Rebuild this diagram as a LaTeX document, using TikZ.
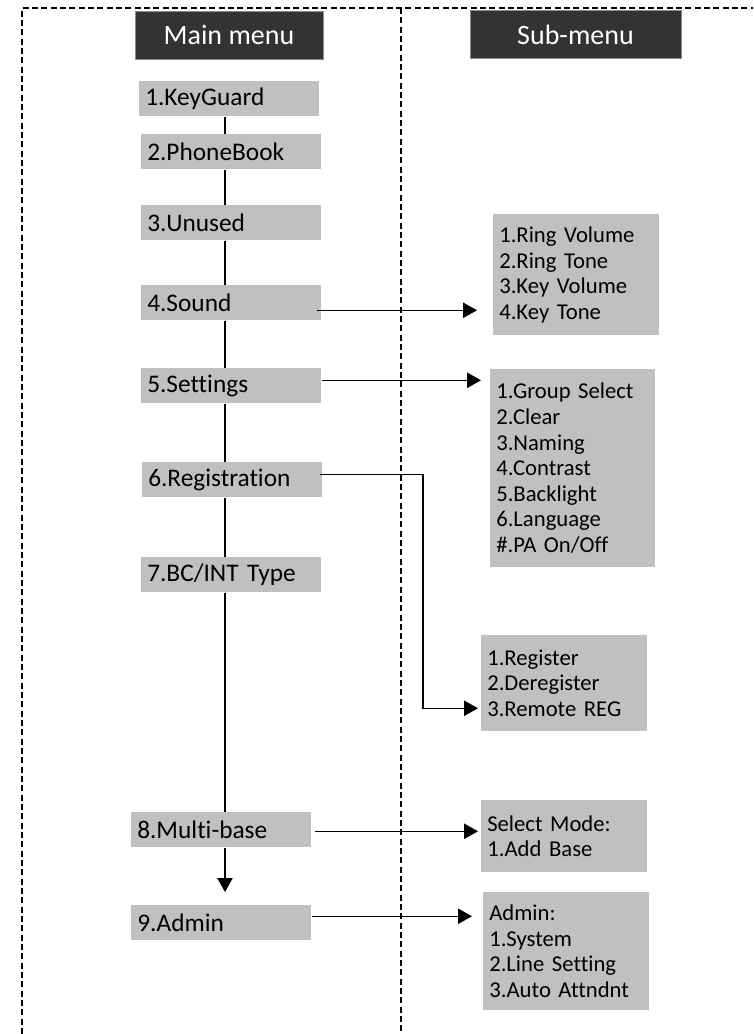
\documentclass[tikz,border=0pt]{standalone}
\usepackage{fontspec}
\setmainfont{Carlito}[Ligatures=NoCommon]
\usetikzlibrary{arrows.meta,positioning,calc}
\definecolor{menuGray}{HTML}{C0C0C0}
\definecolor{menuDark}{HTML}{333333}
\tikzset{
    >=Latex,
    header/.style={fill=menuDark, draw=black!45, line width=0.6pt, text=white, font=\fontsize{21}{25}\selectfont, minimum width=141pt, minimum height=36pt, inner sep=0pt},
    mainitem/.style={fill=menuGray, anchor=north west, minimum width=135pt, minimum height=26.25pt, text width=126pt, inner xsep=4.5pt, inner ysep=0pt, align=left, font=\fontsize{19}{22}\selectfont},
    subitem/.style={fill=menuGray, anchor=north west, text width=115.5pt, inner xsep=4.5pt, inner ysep=0pt, align=left, font=\fontsize{17}{19.2}\selectfont},
    link/.style={line width=1.1pt, draw=black},
    linkarrow/.style={link, -{Triangle[length=10.5pt,width=11.5pt]}},
    frameline/.style={line width=1.8pt, dash pattern=on 4.5pt off 2.5pt}
}
\begin{document}
\begin{tikzpicture}[x=0.75pt,y=-0.75pt]
\useasboundingbox (0,0) rectangle (753,1034);
% dashed frame
\draw[frameline] (22,1034) -- (22,8) -- (753,8);
\draw[frameline] (401,8) -- (401,1034);
% column headers
\node[header] (mainhd) at (229,35) {Main menu};
\node[header, minimum width=158.25pt] (subhd) at (575.5,34.5) {Sub-menu};
% main menu
\node[mainitem] (kg) at (139,81) {1.KeyGuard};
\node[mainitem] (pb) at (141,134) {2.PhoneBook};
\node[mainitem] (un) at (141,205) {3.Unused};
\node[mainitem] (snd) at (141,285) {4.Sound};
\node[mainitem] (set) at (141,368) {5.Settings};
\node[mainitem] (reg) at (142,462) {6.Registration};
\node[mainitem] (bc) at (141,557) {7.BC/INT Type};
\node[mainitem] (mb) at (131,812) {8.Multi-base};
\node[mainitem] (adm) at (131,905) {9.Admin};
% sub-menus
\node[subitem, minimum height=90.75pt] (rv) at (493,214) {1.Ring Volume\\2.Ring Tone\\3.Key Volume\\4.Key Tone};
\node[subitem, text width=114.75pt, minimum height=148.5pt] (gs) at (490,369) {1.Group Select\\2.Clear\\3.Naming\\4.Contrast\\5.Backlight\\6.Language\\\#.PA On/Off};
\node[subitem, minimum height=72pt] (rr) at (481,635) {1.Register\\2.Deregister\\3.Remote REG};
\node[subitem, minimum height=54pt] (sm) at (481,800) {Select Mode:\\1.Add Base};
\node[subitem, minimum height=88.5pt] (ad) at (483,892) {Admin:\\1.System\\2.Line Setting\\3.Auto Attndnt};
% spine of the main menu
\coordinate (spine) at (225,0);
\coordinate (regdrop) at (423,0);
\foreach \a/\b in {kg/pb,pb/un,un/snd,snd/set,set/reg,reg/bc,bc/mb}
  \draw[link] (\a.south -| spine) -- (\b.north -| spine);
\draw[linkarrow, shorten >=9.75pt] (mb.south -| spine) -- (adm.north -| spine);
% links to sub-menus
\coordinate (sndout) at ([shift={(-5,7.5)}]snd.east);
\draw[linkarrow, shorten >=12pt] (sndout) -- (sndout -| rv.west);
\coordinate (setout) at ([shift={(0,-5.5)}]set.east);
\draw[linkarrow, shorten >=6.75pt] (setout) -- (setout -| gs.west);
\coordinate (regout) at ([shift={(-3,-5.5)}]reg.east);
\draw[linkarrow, shorten >=2.25pt] (regout) -- (regout -| regdrop) |- ([shift={(0,25)}]rr.west);
\coordinate (mbout) at ([shift={(3,1.5)}]mb.east);
\draw[linkarrow, shorten >=2.25pt] (mbout) -- (mbout -| sm.west);
\coordinate (admout) at ([shift={(0,-6.5)}]adm.east);
\draw[linkarrow, shorten >=8.25pt] (admout) -- (admout -| ad.west);
\end{tikzpicture}
\end{document}
